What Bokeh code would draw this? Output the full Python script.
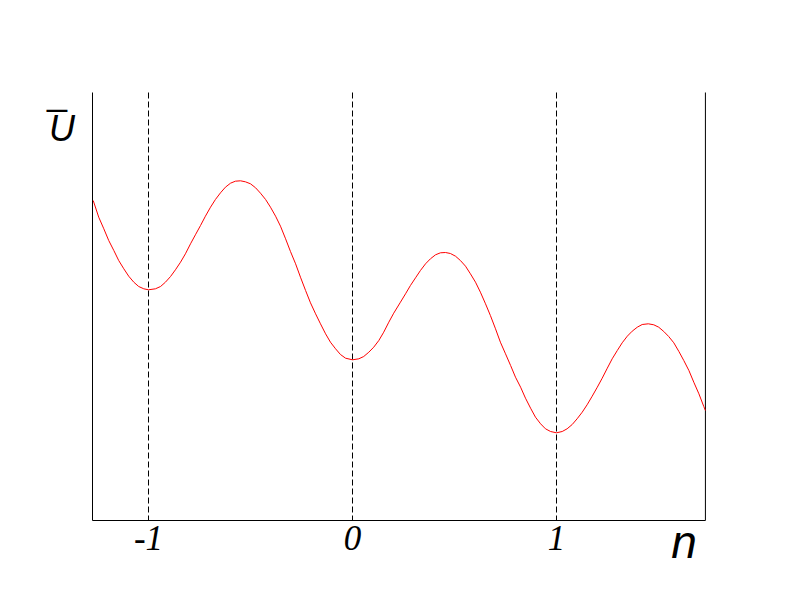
from bokeh.plotting import figure
from bokeh.models import Range1d, Label
from bokeh.embed import file_html
from bokeh.resources import INLINE

# curve samples (n, U)
n_vals = [-1.271, -1.244, -1.219, -1.195, -1.170, -1.146, -1.121, -1.097, -1.072, -1.048,
          -1.023, -1.000, -0.966, -0.941, -0.917, -0.892, -0.868, -0.843, -0.819, -0.794,
          -0.770, -0.745, -0.721, -0.696, -0.672, -0.647, -0.623, -0.598, -0.574, -0.549,
          -0.525, -0.500, -0.475, -0.451, -0.426, -0.402, -0.377, -0.353, -0.328, -0.304,
          -0.279, -0.255, -0.230, -0.206, -0.181, -0.157, -0.132, -0.108, -0.083, -0.059,
          -0.034, 0.000, 0.031, 0.055, 0.080, 0.104, 0.129, 0.153, 0.178, 0.202,
          0.235, 0.260, 0.284, 0.309, 0.333, 0.358, 0.382, 0.407, 0.431, 0.456,
          0.480, 0.505, 0.529, 0.554, 0.578, 0.603, 0.627, 0.652, 0.676, 0.701,
          0.725, 0.750, 0.775, 0.799, 0.824, 0.848, 0.873, 0.897, 0.922, 0.946,
          0.971, 1.000, 1.028, 1.052, 1.077, 1.101, 1.126, 1.150, 1.175, 1.200,
          1.224, 1.249, 1.273, 1.298, 1.322, 1.347, 1.371, 1.396, 1.420, 1.450,
          1.477, 1.501, 1.526, 1.550, 1.575, 1.600, 1.624, 1.649, 1.673, 1.698,
          1.722, 1.730]
u_vals = [3.200, 3.033, 2.917, 2.800, 2.700, 2.600, 2.517, 2.443, 2.383, 2.340,
          2.317, 2.307, 2.317, 2.340, 2.383, 2.440, 2.507, 2.583, 2.667, 2.767,
          2.857, 2.950, 3.043, 3.133, 3.210, 3.277, 3.333, 3.373, 3.393, 3.397,
          3.387, 3.367, 3.327, 3.273, 3.210, 3.133, 3.043, 2.943, 2.817, 2.690,
          2.567, 2.433, 2.300, 2.177, 2.067, 1.967, 1.867, 1.783, 1.717, 1.660,
          1.623, 1.607, 1.617, 1.640, 1.683, 1.733, 1.800, 1.883, 1.983, 2.073,
          2.183, 2.267, 2.350, 2.427, 2.500, 2.567, 2.617, 2.657, 2.677, 2.680,
          2.670, 2.643, 2.600, 2.543, 2.467, 2.383, 2.283, 2.167, 2.050, 1.917,
          1.783, 1.667, 1.550, 1.433, 1.333, 1.223, 1.123, 1.033, 0.967, 0.917,
          0.890, 0.877, 0.890, 0.917, 0.960, 1.017, 1.083, 1.157, 1.243, 1.333,
          1.423, 1.523, 1.617, 1.700, 1.777, 1.843, 1.893, 1.933, 1.960, 1.967,
          1.957, 1.933, 1.890, 1.840, 1.777, 1.690, 1.600, 1.500, 1.383, 1.267,
          1.140, 1.100]

tick_positions = [-1, 0, 1]
tick_labels = ["-1", "0", "1"]
x_name = "n"
y_name = "U"

# plot box in data units
box_left, box_right = -1.2745, 1.730
box_bottom, box_top = 0.0, 4.28

# canvas geometry: the frame covers the whole canvas
W, H = 776, 596
px_per_n = 204.0
px_per_u = 100.0
x0_px = 352.0   # canvas x of n = 0
y0_px = 520.0   # canvas y (from top) of U = 0

x_range = Range1d(-x0_px / px_per_n, (W - x0_px) / px_per_n)
y_range = Range1d((y0_px - H) / px_per_u, y0_px / px_per_u)

p = figure(width=W, height=H, x_range=x_range, y_range=y_range,
           output_backend="svg", toolbar_location=None,
           x_axis_location=None, y_axis_location=None)
p.min_border = 0
p.outline_line_color = None
p.background_fill_color = "white"
p.border_fill_color = "white"
for g in p.grid:
    g.visible = False

# box lines (left, right, bottom)
p.segment(x0=[box_left, box_right, box_left], y0=[box_top, box_top, box_bottom],
          x1=[box_left, box_right, box_right], y1=[box_bottom, box_bottom, box_bottom],
          line_color="black", line_width=1)

# dashed verticals at integer n
p.segment(x0=tick_positions, y0=[box_top] * len(tick_positions),
          x1=tick_positions, y1=[box_bottom] * len(tick_positions),
          line_color="black", line_width=1, line_dash="6 3")

# curve
p.line(n_vals, u_vals, line_color="red", line_width=1)

# tick labels
p.text(x=tick_positions, y=[-0.17] * len(tick_positions), text=tick_labels,
       text_font="Liberation Serif", text_font_style="italic",
       text_font_size="35px", text_color="black",
       text_align="center", text_baseline="alphabetic")

# axis names
p.add_layout(Label(x=-1.424, y=3.92, text=y_name, text_font="Liberation Sans",
                   text_font_style="italic", text_font_size="36px", text_color="black",
                   text_align="center", text_baseline="alphabetic"))
p.add_layout(Label(x=-1.4485, y=4.285, text="_", text_font="Liberation Sans",
                   text_font_size="36px", text_color="black",
                   text_align="center", text_baseline="alphabetic"))
p.add_layout(Label(x=1.625, y=-0.21, text=x_name, text_font="Liberation Sans",
                   text_font_style="italic", text_font_size="46px", text_color="black",
                   text_align="center", text_baseline="alphabetic"))

open("out.html", "w").write(file_html(p, INLINE))
